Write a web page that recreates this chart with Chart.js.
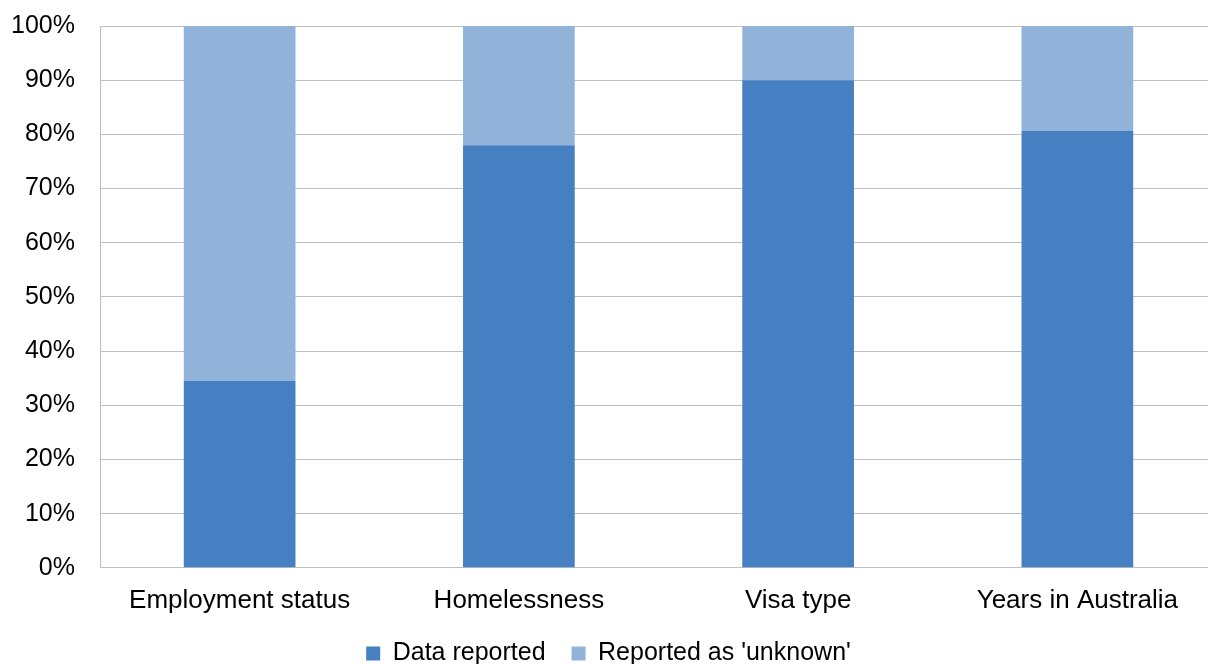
<!DOCTYPE html>
<html>
<head>
<meta charset="utf-8">
<script src="https://cdn.jsdelivr.net/npm/chart.js@4/dist/chart.umd.min.js"></script>
<style>
    html, body { margin: 0; padding: 0; background: #fff; overflow: hidden; }
    #wrap { width: 1208px; height: 664px; overflow: hidden; }
    canvas { display: block; margin-top: -14px; }
</style>
</head>
<body>
<div id="wrap">
    <canvas id="dataChart" width="1218" height="690"></canvas>
</div>
<script>
// Share of records with each field reported vs. 'unknown'
const categories = ['Employment status', 'Homelessness', 'Visa type', 'Years in Australia'];
const reported = [34.5, 78.0, 90.0, 80.6];
const unknown = [65.5, 22.0, 10.0, 19.4];
const yTicks = [0, 10, 20, 30, 40, 50, 60, 70, 80, 90, 100];

const fontFamily = 'Liberation Sans, Arial, sans-serif';
const yFont = { family: fontFamily, size: 25 };
const xFont = { family: fontFamily, size: 26 };
const legendFont = { family: fontFamily, size: 25 };

document.addEventListener('DOMContentLoaded', function() {
    const ctx = document.getElementById('dataChart');

    new Chart(ctx, {
        type: 'bar',
        data: {
            labels: categories,
            datasets: [
                {
                    label: 'Data reported',
                    data: reported,
                    backgroundColor: '#4780c2',
                    categoryPercentage: 1,
                    barPercentage: 0.4
                },
                {
                    label: "Reported as 'unknown'",
                    data: unknown,
                    backgroundColor: '#91b3da',
                    categoryPercentage: 1,
                    barPercentage: 0.4
                }
            ]
        },
        options: {
            responsive: false,
            animation: false,
            layout: { padding: { top: 11, right: 1, left: 0, bottom: 0 } },
            scales: {
                x: {
                    stacked: true,
                    // shrink the axis box so the legend sits closer to the labels
                    afterFit: function(scale) { scale.height -= 18; },
                    grid: { display: false, drawTicks: false },
                    border: { display: true, color: '#bfbfbf' },
                    ticks: { color: '#000', font: xFont, padding: 17, maxRotation: 0 }
                },
                y: {
                    stacked: true,
                    min: 0,
                    max: 100,
                    afterFit: function(scale) { scale.width = 100; },
                    afterBuildTicks: function(scale) {
                        scale.ticks = yTicks.map(v => ({ value: v }));
                    },
                    grid: { color: '#bfbfbf', drawTicks: false },
                    border: { display: true, color: '#bfbfbf' },
                    ticks: {
                        color: '#000',
                        font: yFont,
                        padding: 25,
                        callback: v => v + '%'
                    }
                }
            },
            plugins: {
                tooltip: { enabled: false },
                legend: {
                    position: 'bottom',
                    labels: {
                        color: '#000',
                        font: legendFont,
                        boxWidth: 14,
                        boxHeight: 14,
                        padding: 26
                    }
                }
            }
        }
    });
});
</script>
</body>
</html>
